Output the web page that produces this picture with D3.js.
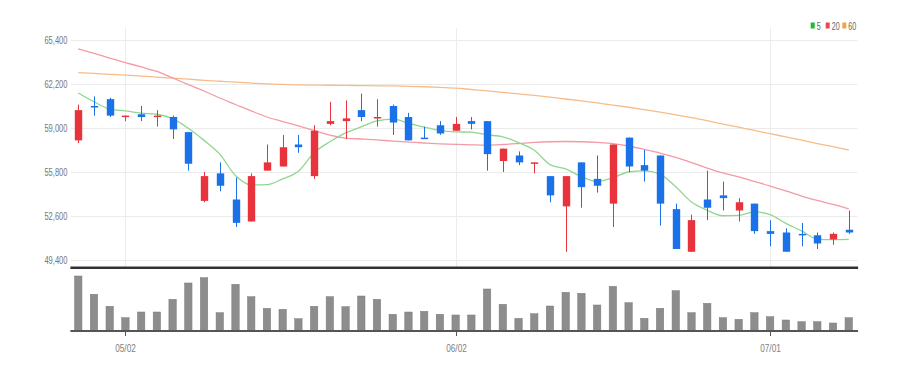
<!DOCTYPE html>
<html><head><meta charset="utf-8">
<script src="https://cdn.jsdelivr.net/npm/d3@7/dist/d3.min.js"></script>
<style>html,body{margin:0;padding:0;background:#fff;} svg{display:block}</style>
</head><body><svg id="c" width="902" height="372"></svg>
<script>
const dates = ["2022-04-27","2022-04-28","2022-04-29","2022-05-02","2022-05-03","2022-05-04","2022-05-06",
"2022-05-09","2022-05-10","2022-05-11","2022-05-12","2022-05-13","2022-05-16","2022-05-17","2022-05-18","2022-05-19","2022-05-20",
"2022-05-23","2022-05-24","2022-05-25","2022-05-26","2022-05-27","2022-05-30","2022-05-31","2022-06-02","2022-06-03",
"2022-06-07","2022-06-08","2022-06-09","2022-06-10","2022-06-13","2022-06-14","2022-06-15","2022-06-16","2022-06-17",
"2022-06-20","2022-06-21","2022-06-22","2022-06-23","2022-06-24","2022-06-27","2022-06-28","2022-06-29","2022-06-30",
"2022-07-01","2022-07-04","2022-07-05","2022-07-06","2022-07-07","2022-07-08"];
const openP  = [58100,60600,61100,59800,60000,59800,59800,58700,53700,55700,53800,52200,55900,56200,57800,55500,59300,59500,60300,59700,60600,59800,58300,59200,58800,59500,59500,56600,57000,56400,55500,53300,56500,55300,53500,58300,56300,57000,53100,50000,53800,54100,53000,53500,51500,51400,51300,51200,50900,51600];
const highP  = [60700,61300,61200,59900,60600,60300,59900,58700,55800,56500,55400,55700,57800,58500,58500,59200,60900,61000,61500,61100,60700,60100,59100,59500,59800,59800,59500,57500,57300,56500,55500,55500,56500,57000,57800,58300,57400,57000,53500,52700,55900,55100,53900,53500,52300,51700,52100,51400,51400,53000];
const lowP   = [57900,59900,59800,59500,59500,59100,58200,55900,53600,54400,51800,52200,55900,56200,57200,55300,59200,58200,59500,59100,58500,58100,58200,58500,58800,58900,55900,55800,56300,55700,53600,50000,53200,54300,51800,55800,55100,51900,50200,50000,52300,53000,52200,51300,50400,50000,50400,50200,50500,51300];
const closeP = [60300,60500,59900,59900,59800,59900,58900,56400,55500,54800,52100,55500,56500,57600,57600,58800,59500,59700,59800,59800,59400,58100,58200,58600,59300,59300,57100,57500,56500,56500,54100,55500,54700,54800,57800,56200,55900,53500,50200,52300,53200,53900,53600,51500,51300,50000,51200,50600,51300,51400];
const volumeK = [5470,3640,2440,1300,1870,1870,3140,4770,5300,1800,4640,3400,2240,2140,1200,2440,3400,2400,3470,3140,1640,1870,1940,1640,1570,1570,4170,2640,1240,1700,2470,3840,3740,2570,4440,2800,1240,2240,4000,1800,2740,1300,1140,1800,1400,1070,900,900,770,1300];
const ma5  = [61550,60910,60380,60240,60080,60000,59680,58980,58100,57100,55540,54860,54880,55300,55860,57200,58000,58640,59080,59520,59640,59360,59060,58820,58720,58700,58500,58360,57940,57380,56340,56020,55460,55120,55380,55800,55880,55640,54720,53620,53020,52620,52640,52900,52700,52060,51520,50920,50880,50900];
const ma20 = [64750,64420,64090,63760,63440,63110,62640,62160,61690,61180,60710,60240,59800,59470,59150,58820,58490,58270,58200,58130,58050,57980,57910,57850,57810,57780,57760,57800,57870,57950,58000,58020,58000,57950,57870,57690,57440,57180,56860,56490,56090,55730,55440,55110,54780,54420,54050,53730,53440,53110];
const ma60 = [63030,62970,62900,62850,62780,62700,62620,62550,62470,62400,62330,62270,62210,62170,62130,62120,62110,62100,62080,62070,62060,62030,62000,61960,61900,61800,61700,61590,61480,61370,61250,61110,60970,60820,60670,60510,60340,60160,59960,59750,59530,59290,59060,58820,58590,58350,58110,57870,57640,57400];
const priceTicks = [49400,52600,55800,59000,62200,65400];
const dateTicks = ["2022-05-02","2022-06-02","2022-07-01"];
const dateTickLabels = ["05/02","06/02","07/01"];
const legendNames = ["5","20","60"];

const svg = d3.select("#c");
const left = 70.4, right = 856.6;
const x = d3.scaleBand().domain(dates).range([left, right]).paddingInner(0).paddingOuter(0);
const cx = d => x(d) + x.bandwidth()/2;
const y = d3.scaleLinear().domain([49400, 65400]).range([260, 40]);
const vy = d3.scaleLinear().domain([0, d3.max(volumeK)]).range([330.7, 276]);
const UP = "#e8333c", DOWN = "#1b72e8";
const FONT = "'Liberation Sans', Arial, sans-serif";

function ctext(g, px, py, str, anchor, size, color, sx) {
  g.append("text").attr("transform", `translate(${px},${py}) scale(${sx},1)`)
   .attr("text-anchor", anchor).attr("font-family", FONT).attr("font-size", size)
   .attr("fill", color).text(str);
}

// grid
const grid = svg.append("g");
priceTicks.forEach(t => {
  grid.append("line").attr("x1", left).attr("x2", right + 1).attr("y1", Math.round(y(t)) + 0.5).attr("y2", Math.round(y(t)) + 0.5)
    .attr("stroke", "#ebebeb").attr("stroke-width", 1);
});
dateTicks.forEach(t => {
  grid.append("line").attr("x1", Math.round(cx(t)) + 0.5).attr("x2", Math.round(cx(t)) + 0.5).attr("y1", 28).attr("y2", 267)
    .attr("stroke", "#ececec").attr("stroke-width", 1);
});

// y labels
const yl = svg.append("g");
priceTicks.forEach(t => ctext(yl, 67.5, y(t) + 3.8, d3.format(",")(t), "end", 10.5, "#777", 0.72));

// MA lines
const idx = d3.range(dates.length);
const lineGen = arr => d3.line().x(i => cx(dates[i])).y(i => y(arr[i])).curve(d3.curveMonotoneX)(idx);
[[ma60, "#f6bd8a"], [ma20, "#f49aa6"], [ma5, "#8fd68f"]].forEach(([arr, col]) => {
  svg.append("path").attr("d", lineGen(arr)).attr("fill", "none").attr("stroke", col).attr("stroke-width", 1.3);
});

// candles
const bw = 7.4;
const cg = svg.append("g");
idx.forEach(i => {
  const up = closeP[i] >= openP[i];
  const col = up ? UP : DOWN;
  const xc = Math.round(cx(dates[i])) + 0.5;
  cg.append("line").attr("x1", xc).attr("x2", xc).attr("y1", y(highP[i])).attr("y2", y(lowP[i]))
    .attr("stroke", col).attr("stroke-width", 1);
  const top = y(Math.max(openP[i], closeP[i])), bot = y(Math.min(openP[i], closeP[i]));
  cg.append("rect").attr("x", xc - bw/2).attr("width", bw).attr("y", top).attr("height", Math.max(1.5, bot - top))
    .attr("fill", col);
});

// separator line
svg.append("line").attr("x1", left).attr("x2", right + 1.5).attr("y1", 267.8).attr("y2", 267.8)
  .attr("stroke", "#333").attr("stroke-width", 2.4);

// volume
const vg = svg.append("g");
idx.forEach(i => {
  const xc = cx(dates[i]);
  vg.append("rect").attr("x", xc - bw/2).attr("width", bw).attr("y", vy(volumeK[i])).attr("height", vy(0) - vy(volumeK[i]))
    .attr("fill", "#8d8d8d").attr("stroke", "#7a7a7a").attr("stroke-width", 0.5);
});
svg.append("line").attr("x1", left).attr("x2", right + 1.5).attr("y1", 331).attr("y2", 331)
  .attr("stroke", "#555").attr("stroke-width", 2);
dateTicks.forEach((t, k) => {
  const xc = Math.round(cx(t)) + 0.5;
  svg.append("line").attr("x1", xc).attr("x2", xc).attr("y1", 331).attr("y2", 336).attr("stroke", "#555").attr("stroke-width", 1);
  ctext(svg, xc, 351.5, dateTickLabels[k], "middle", 11, "#808080", 0.75);
});

// legend
const lg = svg.append("g");
const legendCols = ["#1fb83a", "#e84a4a", "#f5a04a"];
const legendX = [810.7, 825.7, 842.3];
legendNames.forEach((n, k) => {
  lg.append("rect").attr("x", legendX[k]).attr("y", 22.5).attr("width", 4).attr("height", 6).attr("fill", legendCols[k]);
  ctext(lg, legendX[k] + 6, 29.5, n, "start", 10, "#666", 0.72);
});
</script>
</body></html>
